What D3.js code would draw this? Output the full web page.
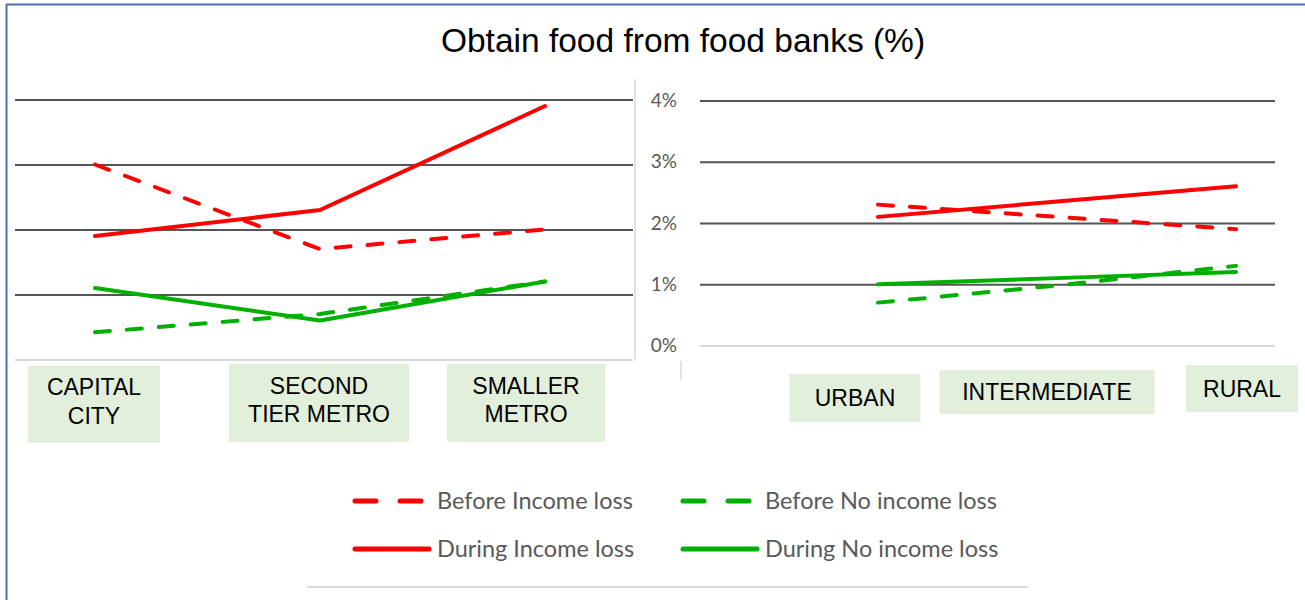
<!DOCTYPE html>
<html>
<head>
<meta charset="utf-8">
<script src="https://cdn.jsdelivr.net/npm/d3@7"></script>
<style>
  body { margin: 0; background: #fff; }
  svg { display: block; }
</style>
</head>
<body>
<div id="chart"></div>
<script>
// chart data
const chartTitle = "Obtain food from food banks (%)";
const metroCategories = ["CAPITAL CITY", "SECOND TIER METRO", "SMALLER METRO"];
const metroLabelLines = [["CAPITAL", "CITY"], ["SECOND", "TIER METRO"], ["SMALLER", "METRO"]];
const areaCategories = ["URBAN", "INTERMEDIATE", "RURAL"];
const seriesNames = ["Before Income loss", "Before No income loss", "During Income loss", "During No income loss"];

const metroBeforeIncomeLoss = [3.0, 1.7, 2.0];
const metroBeforeNoIncomeLoss = [0.42, 0.7, 1.2];
const metroDuringIncomeLoss = [1.9, 2.3, 3.9];
const metroDuringNoIncomeLoss = [1.1, 0.6, 1.2];

const areaBeforeIncomeLoss = [2.3, 2.1, 1.9];
const areaBeforeNoIncomeLoss = [0.7, 0.98, 1.3];
const areaDuringIncomeLoss = [2.1, 2.35, 2.6];
const areaDuringNoIncomeLoss = [1.0, 1.1, 1.2];

const yTicks = [0, 1, 2, 3, 4];

// styles
const RED = "#ff0000", GREEN = "#00b000";
const seriesColor = [RED, GREEN, RED, GREEN];
const seriesDashed = [true, true, false, false];
const GRID = "#555555", LIGHT = "#d9d9d9", TEXT = "#595959";

const width = 1305, height = 600;

const svg = d3.select("#chart")
  .append("svg")
  .attr("width", width)
  .attr("height", height);

// frame (only top & left edges are visible in the crop)
svg.append("line").attr("x1", 6).attr("x2", width).attr("y1", 4.5).attr("y2", 4.5)
  .attr("stroke", "#4a6db0").attr("stroke-width", 2);
svg.append("line").attr("x1", 6.5).attr("x2", 6.5).attr("y1", 4).attr("y2", height)
  .attr("stroke", "#4a6db0").attr("stroke-width", 2);

svg.append("text")
  .attr("x", 683).attr("y", 52)
  .attr("text-anchor", "middle")
  .style("font-family", "'Liberation Sans', Arial, sans-serif")
  .style("font-size", "33.5px")
  .attr("fill", "#000")
  .text(chartTitle);

// ---------- panels ----------
const panels = [
  {
    cats: metroCategories,
    labels: metroLabelLines,
    series: [metroBeforeIncomeLoss, metroBeforeNoIncomeLoss, metroDuringIncomeLoss, metroDuringNoIncomeLoss],
    x: d3.scalePoint().domain(metroCategories).range([95, 545]),
    y: d3.scaleLinear().domain([0, 4]).range([359.5, 99.5]),
    gridX: [15, 633],
    boxOffset: [-1, -1, -19], boxW: [132, 180, 158], boxTop: [366, 364, 364], boxH: [77, 78, 78]
  },
  {
    cats: areaCategories,
    labels: areaCategories.map(d => [d]),
    series: [areaBeforeIncomeLoss, areaBeforeNoIncomeLoss, areaDuringIncomeLoss, areaDuringNoIncomeLoss],
    x: d3.scalePoint().domain(areaCategories).range([878, 1236]),
    y: d3.scaleLinear().domain([0, 4]).range([345.5, 100.5]),
    gridX: [700, 1275],
    boxOffset: [-23, -10, 6], boxW: [131, 215, 112], boxTop: [374, 370, 365], boxH: [48, 44, 47]
  }
];

panels.forEach((p, pi) => {
  // gridlines
  const grid = svg.append("g")
    .attr("transform", "translate(" + p.gridX[0] + ",0)")
    .call(d3.axisRight(p.y).tickValues(yTicks).tickSize(p.gridX[1] - p.gridX[0]).tickFormat(""));
  grid.select(".domain").remove();
  grid.selectAll(".tick line")
    .attr("stroke", d => d === 0 ? LIGHT : GRID)
    .attr("stroke-width", 2);

  // category label boxes
  const lab = svg.append("g").selectAll("g")
    .data(p.cats)
    .enter()
    .append("g")
    .attr("transform", (d, i) => "translate(" + (p.x(d) + p.boxOffset[i]) + "," + p.boxTop[i] + ")");
  lab.append("rect")
    .attr("x", (d, i) => -p.boxW[i] / 2)
    .attr("y", 0)
    .attr("width", (d, i) => p.boxW[i])
    .attr("height", (d, i) => p.boxH[i])
    .attr("fill", "#e2efda");
  lab.each(function (d, i) {
    const lines = p.labels[i];
    const lh = 28.5;
    const mid = p.boxH[i] / 2 - (lines.length > 1 ? 3 : 0);
    d3.select(this).selectAll("text")
      .data(lines)
      .enter()
      .append("text")
      .attr("x", 0)
      .attr("y", (t, j) => mid + (j - (lines.length - 1) / 2) * lh)
      .attr("dy", "0.35em")
      .attr("text-anchor", "middle")
      .style("font-family", "'Liberation Sans', Arial, sans-serif")
      .style("font-size", "23px")
      .attr("fill", "#000")
      .text(t => t);
  });

  // lines
  const line = d3.line()
    .x((d, i) => p.x(p.cats[i]))
    .y(d => p.y(d));
  svg.append("g").selectAll("path")
    .data(p.series)
    .enter()
    .append("path")
    .attr("d", line)
    .attr("fill", "none")
    .attr("stroke", (d, i) => seriesColor[i])
    .attr("stroke-width", 4)
    .attr("stroke-linecap", "round")
    .attr("stroke-linejoin", "round")
    .attr("stroke-dasharray", (d, i) => seriesDashed[i] ? "15,17" : null);
});

// value axis between panels (labels follow right panel scale)
svg.append("line").attr("x1", 635).attr("x2", 635).attr("y1", 79).attr("y2", 360)
  .attr("stroke", LIGHT).attr("stroke-width", 1.5);
svg.append("line").attr("x1", 681).attr("x2", 681).attr("y1", 361).attr("y2", 380)
  .attr("stroke", LIGHT).attr("stroke-width", 1.5);

const yAxis = svg.append("g")
  .attr("transform", "translate(680,0)")
  .call(d3.axisLeft(panels[1].y).tickValues(yTicks).tickSize(0).tickPadding(3).tickFormat(d => d + "%"));
yAxis.select(".domain").remove();
yAxis.selectAll("text")
  .style("font-family", "Lato, 'Open Sans', sans-serif")
  .style("font-size", "19px")
  .attr("fill", TEXT);

// ---------- legend ----------
const legendCol = [355, 683];
const legendRow = [501, 549];
const legend = svg.append("g").selectAll("g")
  .data(seriesNames)
  .enter()
  .append("g")
  .attr("transform", (d, i) => "translate(" + legendCol[i % 2] + "," + legendRow[Math.floor(i / 2)] + ")");
legend.append("line")
  .attr("x1", 0)
  .attr("x2", (d, i) => seriesDashed[i] ? 66 : 74)
  .attr("y1", 0).attr("y2", 0)
  .attr("stroke", (d, i) => seriesColor[i])
  .attr("stroke-width", 5)
  .attr("stroke-linecap", "round")
  .attr("stroke-dasharray", (d, i) => seriesDashed[i] ? "21,24" : null);
legend.append("text")
  .attr("x", 82)
  .attr("y", 0)
  .attr("dy", "0.35em")
  .style("font-family", "Lato, 'Open Sans', sans-serif")
  .style("font-size", "23.5px")
  .attr("fill", TEXT)
  .text(d => d);

svg.append("line").attr("x1", 307).attr("x2", 1028).attr("y1", 587).attr("y2", 587)
  .attr("stroke", LIGHT).attr("stroke-width", 2);
</script>
</body>
</html>
